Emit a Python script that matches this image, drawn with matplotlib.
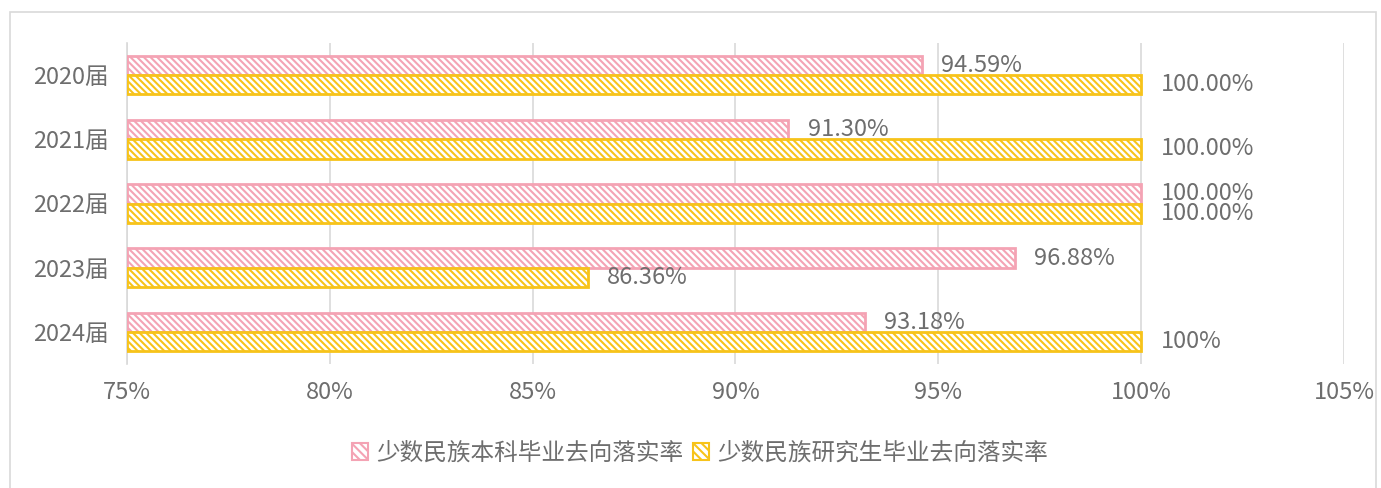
import matplotlib
matplotlib.use("Agg")
import matplotlib.pyplot as plt
from matplotlib.patches import Patch, Rectangle
import numpy as np

plt.rcParams['font.family'] = ['Noto Sans CJK SC', 'DejaVu Sans']
plt.rcParams['hatch.linewidth'] = 1.5

categories = ['2020届', '2021届', '2022届', '2023届', '2024届']
undergrad = [94.59, 91.30, 100.00, 96.88, 93.18]
graduate = [100.00, 100.00, 100.00, 86.36, 100.00]
undergrad_labels = ['94.59%', '91.30%', '100.00%', '96.88%', '93.18%']
graduate_labels = ['100.00%', '100.00%', '100.00%', '86.36%', '100%']
series_names = ['少数民族本科毕业去向落实率', '少数民族研究生毕业去向落实率']
xticks = [75, 80, 85, 90, 95, 100, 105]
xtick_labels = ['75%', '80%', '85%', '90%', '95%', '100%', '105%']

pink = '#F4A3B4'
yellow = '#F7C31A'
txt = '#6E6E6E'
grid = '#D9D9D9'

fig = plt.figure(figsize=(13.81, 4.88), dpi=100)
W, H = 1381, 488
ax = fig.add_axes([127 / W, 1 - 364 / H, (1344 - 127) / W, (364 - 43) / H])

# figure border
fig.add_artist(Rectangle((10 / W, -0.02), (1376 - 10) / W, 1.02 - 12 / H,
                         transform=fig.transFigure, fill=False, edgecolor='#D9D9D9', lw=1.2))

y = np.arange(len(categories))
h = 0.3
base = 75
hatch = '\\' * 5
ax.barh(y - h / 2, np.array(undergrad) - base, left=base, height=h, color='white',
        edgecolor=pink, hatch=hatch, lw=2, zorder=3)
ax.barh(y + h / 2, np.array(graduate) - base, left=base, height=h, color='white',
        edgecolor=yellow, hatch=hatch, lw=2, zorder=3)

fs = 17
for i in range(len(categories)):
    ax.text(undergrad[i] + 0.48, y[i] - h / 2, undergrad_labels[i], va='center', ha='left',
            fontsize=fs, color=txt)
    ax.text(graduate[i] + 0.48, y[i] + h / 2, graduate_labels[i], va='center', ha='left',
            fontsize=fs, color=txt)

ax.set_xlim(75, 105)
ax.set_ylim(len(categories) - 0.5, -0.5)
ax.set_xticks(xticks)
ax.set_xticklabels(xtick_labels, fontsize=fs, color=txt)
ax.set_yticks(y)
ax.set_yticklabels(categories, fontsize=fs, color=txt)
ax.tick_params(axis='x', length=0, pad=12)
ax.tick_params(axis='y', length=0, pad=13)
ax.grid(axis='x', color=grid, lw=1.2, zorder=0)
for s in ['top', 'right', 'bottom']:
    ax.spines[s].set_visible(False)
ax.spines['left'].set_color(grid)
ax.spines['left'].set_linewidth(1.2)

handles = [Patch(facecolor='white', edgecolor=pink, hatch='\\' * 4, lw=1.5, label=series_names[0]),
           Patch(facecolor='white', edgecolor=yellow, hatch='\\' * 4, lw=1.5, label=series_names[1])]
leg = fig.legend(handles=handles, loc='center', bbox_to_anchor=(700 / W, 1 - 453 / H), ncol=2,
                 frameon=False, fontsize=fs, handlelength=0.7, handleheight=0.7,
                 handletextpad=0.35, columnspacing=0.4)
for t in leg.get_texts():
    t.set_color(txt)

fig.savefig('out.png', dpi=100)
